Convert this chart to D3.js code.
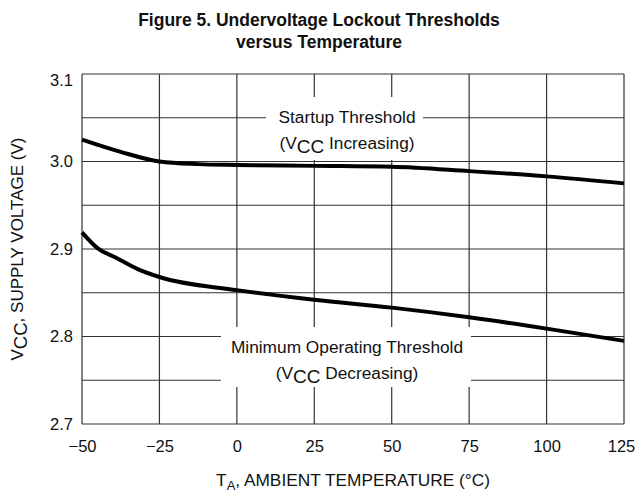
<!DOCTYPE html>
<html>
<head>
<meta charset="utf-8">
<script src="https://cdn.jsdelivr.net/npm/d3@7"></script>
<style>
  body { margin: 0; background: #fff; }
  text { font-family: "Liberation Sans", Arial, sans-serif; fill: #111; }
  .grid line { stroke: #333; stroke-width: 1.2; }
  .axis path, .axis line { display: none; }
  .axis text { font-size: 16.5px; font-family: "Liberation Sans", Arial, sans-serif; }
</style>
</head>
<body>
<div id="chart"></div>
<script>
let width = 637;
let height = 493;
let plotLeft = 82, plotRight = 624, plotTop = 74, plotBottom = 424;

// data
let xTicks = [-50, -25, 0, 25, 50, 75, 100, 125];
let yTicks = [2.7, 2.8, 2.9, 3.0, 3.1];
let yGrid = [2.7, 2.75, 2.8, 2.85, 2.9, 2.95, 3.0, 3.05, 3.1];

let startupTemp = [-50, -37.5, -25, -12.5, 0, 25, 50, 75, 100, 125];
let startupVolt = [3.025, 3.011, 3.0, 2.997, 2.996, 2.995, 2.994, 2.989, 2.983, 2.975];

let minTemp = [-50, -45, -39, -32, -25, 0, 25, 50, 75, 100, 125];
let minVolt = [2.919, 2.901, 2.890, 2.877, 2.868, 2.853, 2.842, 2.833, 2.822, 2.809, 2.795];

let svg = d3.select("#chart")
    .append("svg")
    .attr("width", width)
    .attr("height", height);

let x = d3.scaleLinear().domain([-50, 125]).range([plotLeft, plotRight]);
let y = d3.scaleLinear().domain([2.7, 3.1]).range([plotBottom, plotTop]);

// grid
let grid = svg.append("g").attr("class", "grid");
grid.selectAll(".v")
    .data(xTicks)
    .join("line")
    .attr("x1", d => x(d)).attr("x2", d => x(d))
    .attr("y1", plotTop).attr("y2", plotBottom);
grid.selectAll(".h")
    .data(yGrid)
    .join("line")
    .attr("x1", plotLeft).attr("x2", plotRight)
    .attr("y1", d => y(d)).attr("y2", d => y(d));

// white label boxes that break the grid
svg.append("rect")
    .attr("x", 266).attr("y", 97)
    .attr("width", 157).attr("height", 63)
    .attr("fill", "#fff");
svg.append("rect")
    .attr("x", 221).attr("y", 327)
    .attr("width", 250).attr("height", 60)
    .attr("fill", "#fff");

// curves
let line = d3.line()
    .x(d => x(d[0]))
    .y(d => y(d[1]))
    .curve(d3.curveMonotoneX);

svg.append("path")
    .datum(startupTemp.map((t, i) => [t, startupVolt[i]]))
    .attr("d", line)
    .attr("fill", "none")
    .attr("stroke", "#000")
    .attr("stroke-width", 4);

svg.append("path")
    .datum(minTemp.map((t, i) => [t, minVolt[i]]))
    .attr("d", line)
    .attr("fill", "none")
    .attr("stroke", "#000")
    .attr("stroke-width", 4);

// axes (labels only)
svg.append("g")
    .attr("class", "axis xaxis")
    .attr("transform", "translate(0," + plotBottom + ")")
    .call(d3.axisBottom(x).tickValues(xTicks).tickSize(0).tickPadding(16)
        .tickFormat(d => d < 0 ? "\u2212" + Math.abs(d) : d));

// last label pulled in from the page edge
svg.selectAll(".xaxis .tick text")
    .filter(d => d === 125)
    .attr("dx", -3);

svg.append("g")
    .attr("class", "axis yaxis")
    .attr("transform", "translate(" + plotLeft + ",0)")
    .call(d3.axisLeft(y).tickValues(yTicks).tickSize(0).tickPadding(9)
        .tickFormat(d3.format(".1f")));

// top label sits just below the frame
svg.selectAll(".yaxis .tick text")
    .filter(d => d === 3.1)
    .attr("dy", "0.68em");

// title
svg.append("text")
    .attr("x", 319).attr("y", 26)
    .attr("text-anchor", "middle")
    .style("font-size", "17.5px").style("font-weight", "bold")
    .text("Figure 5. Undervoltage Lockout Thresholds");
svg.append("text")
    .attr("x", 319).attr("y", 48)
    .attr("text-anchor", "middle")
    .style("font-size", "17.5px").style("font-weight", "bold")
    .text("versus Temperature");

// curve labels
function vccLabel(cx, cy, tail) {
    let t = svg.append("text")
        .attr("x", cx).attr("y", cy)
        .attr("text-anchor", "middle")
        .style("font-size", "17.3px");
    t.append("tspan").text("(V");
    t.append("tspan").attr("dy", 4).style("font-size", "19px").text("CC");
    t.append("tspan").attr("dy", -4).text(" " + tail);
}

svg.append("text")
    .attr("x", 347).attr("y", 123)
    .attr("text-anchor", "middle")
    .style("font-size", "17.3px")
    .text("Startup Threshold");
vccLabel(347, 149, "Increasing)");

svg.append("text")
    .attr("x", 347).attr("y", 353)
    .attr("text-anchor", "middle")
    .style("font-size", "17.3px")
    .text("Minimum Operating Threshold");
vccLabel(347, 379, "Decreasing)");

// x axis title
let xt = svg.append("text")
    .attr("x", (plotLeft + plotRight) / 2).attr("y", 486)
    .attr("text-anchor", "middle")
    .style("font-size", "17.3px");
xt.append("tspan").text("T");
xt.append("tspan").attr("dy", 4).style("font-size", "13px").text("A");
xt.append("tspan").attr("dy", -4).text(", AMBIENT TEMPERATURE (\u00B0C)");

// y axis title
let yt = svg.append("text")
    .attr("transform", "translate(23," + ((plotTop + plotBottom) / 2) + ") rotate(-90)")
    .attr("text-anchor", "middle")
    .style("font-size", "17px");
yt.append("tspan").text("V");
yt.append("tspan").attr("dy", 4).style("font-size", "18.5px").text("CC");
yt.append("tspan").attr("dy", -4).text(", SUPPLY VOLTAGE (V)");
</script>
</body>
</html>
